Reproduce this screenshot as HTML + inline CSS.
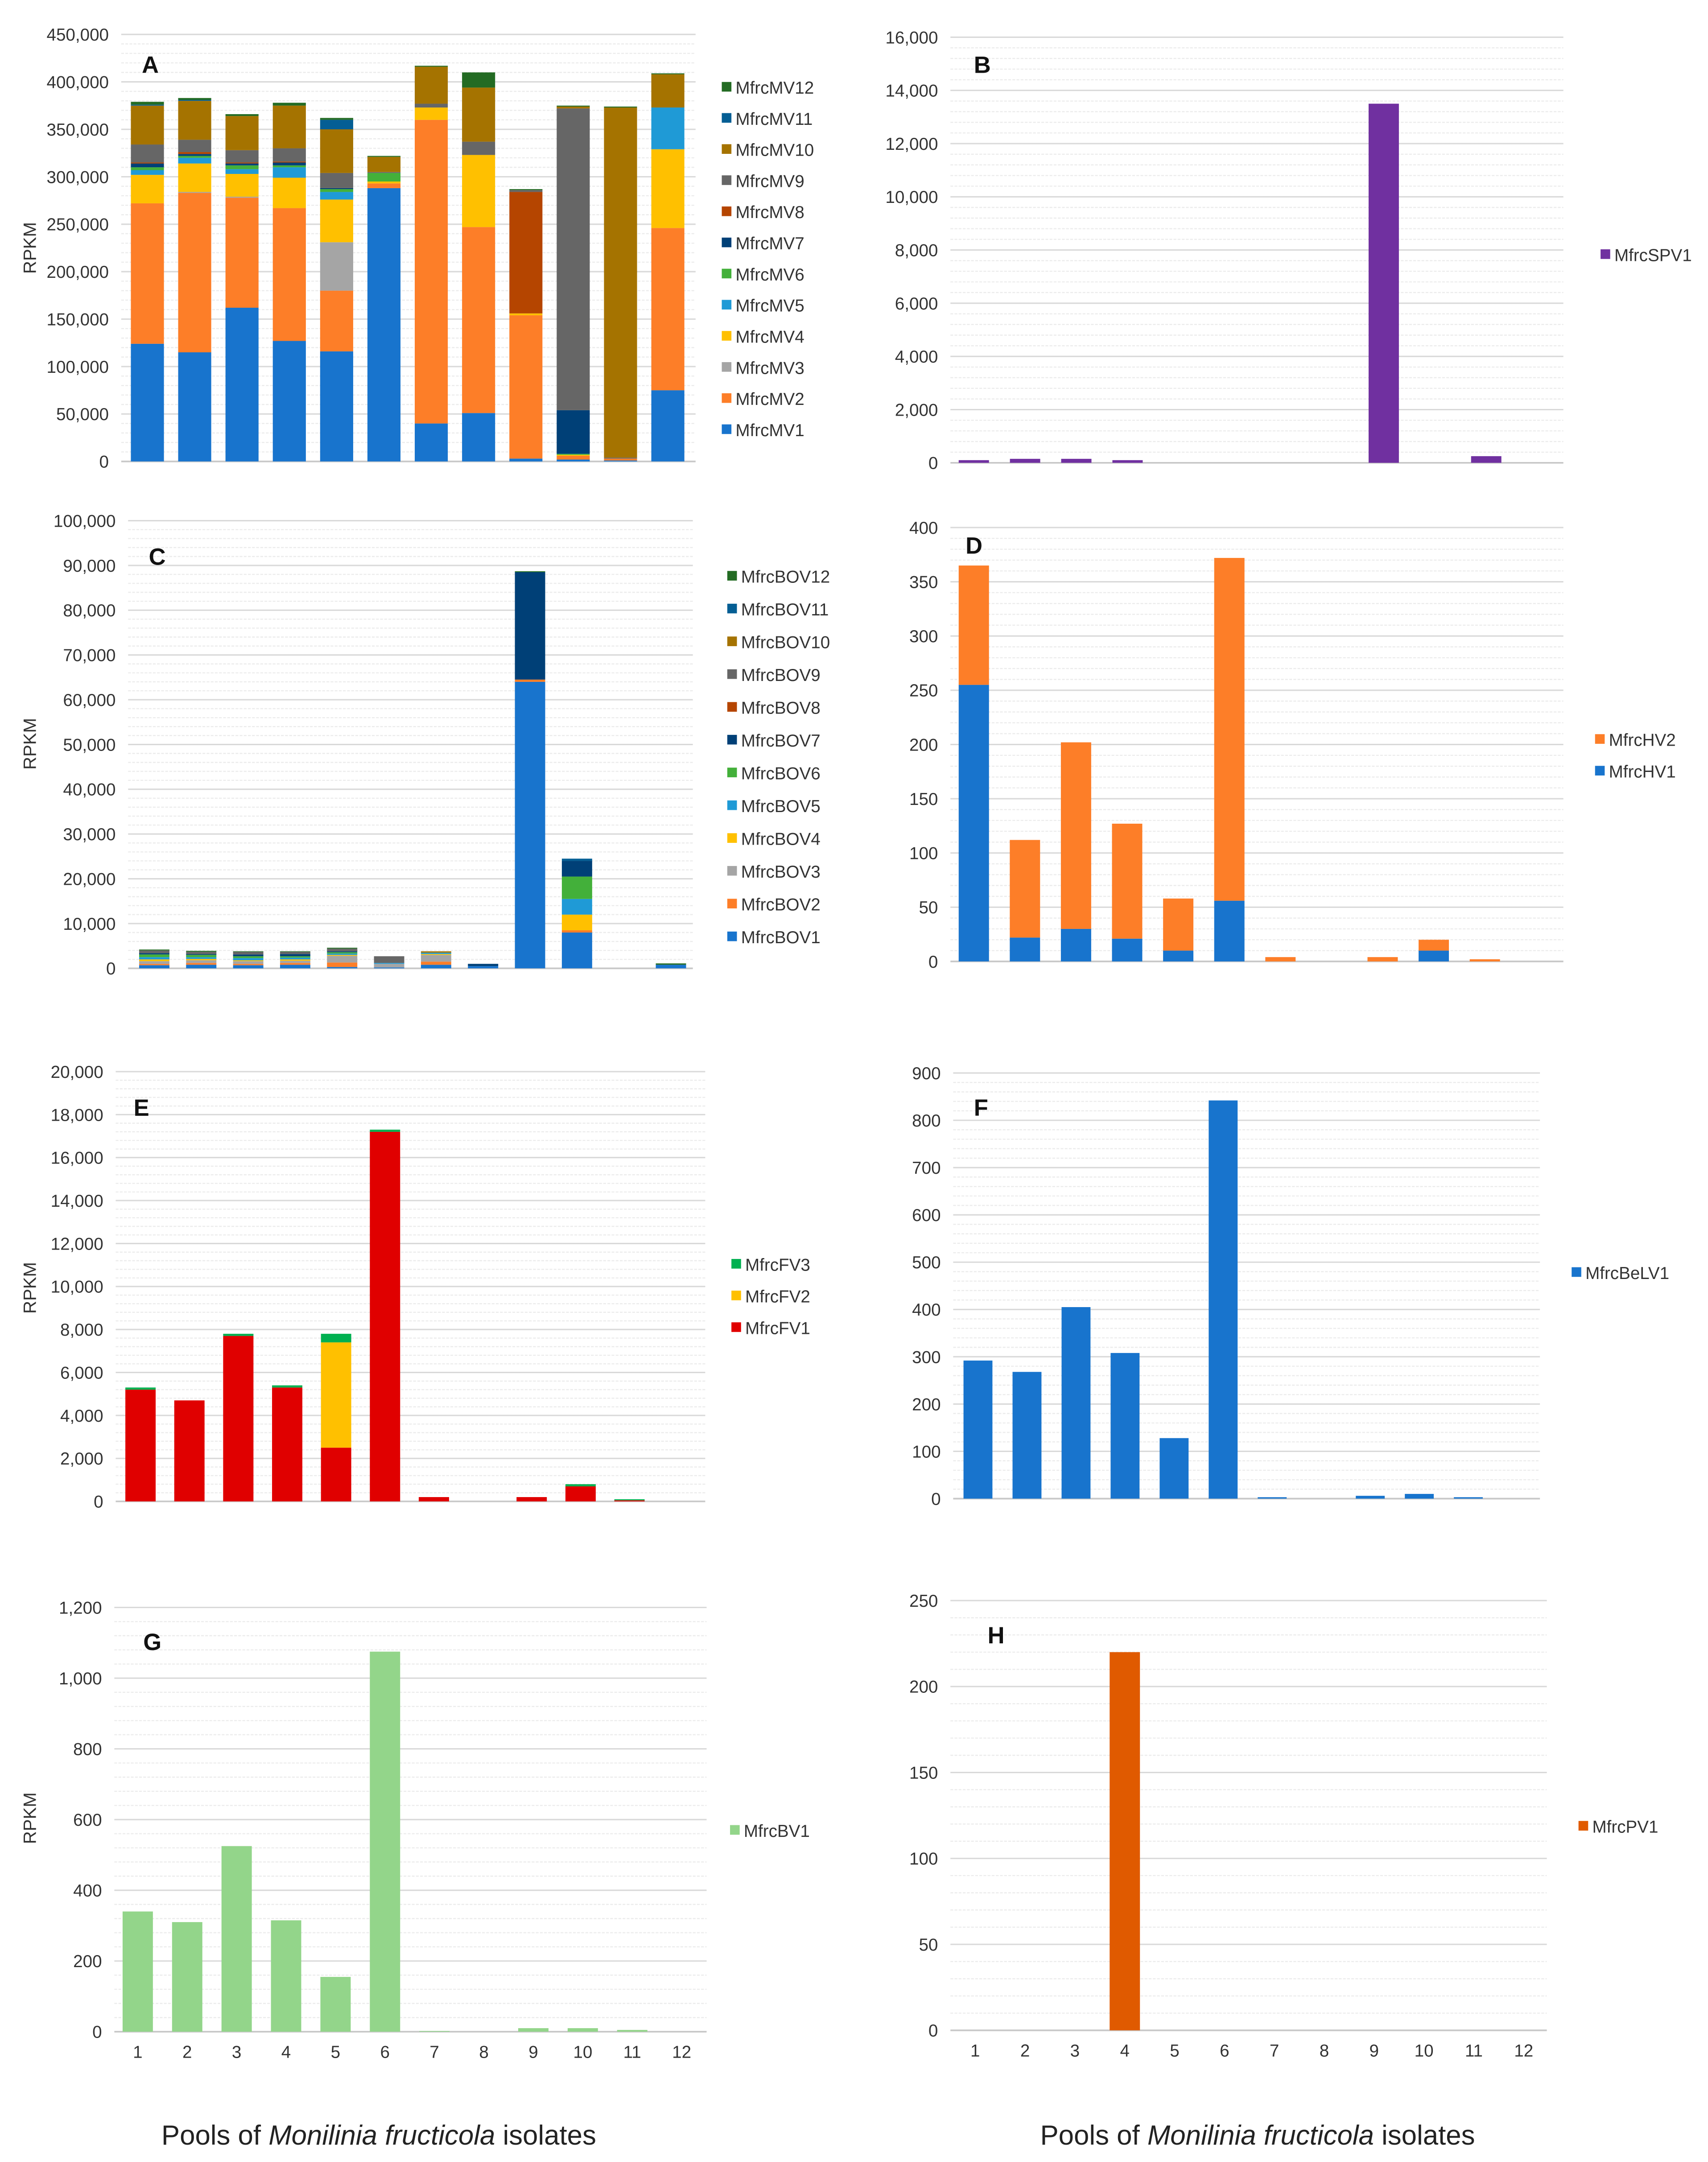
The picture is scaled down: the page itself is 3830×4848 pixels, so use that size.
<!DOCTYPE html>
<html><head><meta charset="utf-8"><style>
html,body{margin:0;padding:0;background:#fff;}
svg{display:block;font-family:"Liberation Sans",sans-serif;}
</style></head><body>
<svg id="root" width="3830" height="4848" viewBox="0 0 1240 1569.6" xmlns="http://www.w3.org/2000/svg">
<rect width="1240" height="1570" fill="#fff"/>
<g id="charts"></g>
<text x="275" y="1557" text-anchor="middle" font-size="20" fill="#222">Pools of <tspan font-style="italic">Monilinia fructicola</tspan> isolates</text>
<text x="913" y="1557" text-anchor="middle" font-size="20" fill="#222">Pools of <tspan font-style="italic">Monilinia fructicola</tspan> isolates</text>
</svg>
<script>
// ---- Panel A data (MfrcMV1..12), values in thousands RPKM ----
const aMV1=[124,115,162,127,116,288,40,51,3,2,1,75];
const aMV2=[148,168,116,140,64,5,320,196,151,4,2,171];
const aMV3=[0,1,1,0,51,0,0,0,0,0,0,0];
const aMV4=[30,30,24,32,45,2,13,76,2,1,0,83];
const aMV5=[5,6,5,11,8,0,0,0,0,0,0,44];
const aMV6=[3,2,4,2,3,9,0,0,0,1,0,0];
const aMV7=[4,2,2,3,1,0,0,0,0,46,0,0];
const aMV8=[1,2,1,1,0,0,0,0,128,0,0,0];
const aMV9=[19,13,13,14,16,1,4,14,2,318,1,0];
const aMV10=[41,41,36,45,46,16,39,57,0,2,369,35];
const aMV11=[1,1,0,0,10,0,0,0,0,0,0,0];
const aMV12=[3,2,2,3,2,1,1,16,1,1,1,1];
// ---- Panel C data (MfrcBOV1..12), thousands ----
const cBOV1=[0.7,0.8,0.7,0.8,0.3,0.2,0.8,0.5,64,8,0,0.8];
const cBOV2=[0.3,0.4,0.3,0.4,1.0,0,0.7,0,0.5,0.5,0,0];
const cBOV3=[0.6,0.6,0.6,0.5,1.5,0.8,1.5,0,0,0,0,0];
const cBOV4=[0.4,0.3,0.2,0.3,0.2,0,0.2,0,0,3.5,0,0];
const cBOV5=[0.5,0.4,0.5,0.4,0.3,0.2,0.3,0,0,3.5,0,0];
const cBOV6=[0.6,0.5,0.4,0.3,0.3,0,0,0,0,5,0,0];
const cBOV7=[0.3,0.2,0.4,0.5,0.2,0,0,0.5,24,3.5,0,0];
const cBOV8=[0,0,0,0,0,0,0,0,0,0,0,0];
const cBOV9=[0.6,0.5,0.6,0.5,0.6,1.5,0,0,0,0,0,0];
const cBOV10=[0,0,0,0,0,0,0.3,0,0,0,0,0];
const cBOV11=[0,0,0,0,0,0,0,0,0,0.5,0,0];
const cBOV12=[0.2,0.2,0.1,0.1,0.2,0,0,0,0.2,0,0,0.3];
// ---- Panel B ----
const bSPV1=[100,150,150,100,0,0,0,0,13500,0,250,0];
// ---- Panel D ----
const dHV1=[255,22,30,21,10,56,0,0,0,10,0,0];
const dHV2=[110,90,172,106,48,316,4,0,4,10,2,0];
// ---- Panel E ----
const eFV1=[5200,4700,7700,5300,2500,17200,200,0,200,700,50,0];
const eFV2=[0,0,0,0,4900,0,0,0,0,0,0,0];
const eFV3=[100,0,100,100,400,100,0,0,0,100,50,0];
// ---- Panel F ----
const fBeLV1=[292,268,405,308,128,842,3,0,6,10,3,0];
// ---- Panel G ----
const gBV1=[340,310,525,315,155,1075,2,0,10,10,5,0];
// ---- Panel H ----
const hPV1=[0,0,0,220,0,0,0,0,0,0,0,0];
// ---- categories / ticks ----
const categories=["1","2","3","4","5","6","7","8","9","10","11","12"];
const ticksA=[0,50000,100000,150000,200000,250000,300000,350000,400000,450000];
const ticksB=[0,2000,4000,6000,8000,10000,12000,14000,16000];
const ticksC=[0,10000,20000,30000,40000,50000,60000,70000,80000,90000,100000];
const ticksD=[0,50,100,150,200,250,300,350,400];
const ticksE=[0,2000,4000,6000,8000,10000,12000,14000,16000,18000,20000];
const ticksF=[0,100,200,300,400,500,600,700,800,900];
const ticksG=[0,200,400,600,800,1000,1200];
const ticksH=[0,50,100,150,200,250];

const NS="http://www.w3.org/2000/svg";
const root=document.getElementById('charts');
function mk(tag,attrs,parent){const e=document.createElementNS(NS,tag);for(const k in attrs)e.setAttribute(k,attrs[k]);(parent||root).appendChild(e);return e;}
function fmt(v){return v.toLocaleString('en-US');}
const mvCols=["#1874cd","#fd7e28","#a5a5a5","#ffc000","#1f9ad6","#43b03a","#004077","#b54500","#666666","#a57300","#045e94","#236b23"];

function panel(p){
  const g=mk('g',{});
  
  
  const max=p.ticks[p.ticks.length-1];
  const y=v=>p.y0-(v/max)*(p.y0-p.yTop);
  const x=i=>p.x0+p.step*i;
  const n=p.ticks.length-1;
  for(let t=0;t<n;t++){for(let m=1;m<p.minor;m++){const v=p.ticks[t]+(p.ticks[t+1]-p.ticks[t])*m/p.minor;
    const l=mk('line',{x1:p.left,x2:p.right,y1:y(v),y2:y(v),stroke:'#ececec','stroke-width':0.8,'stroke-dasharray':'2,1'},g);
    
    }}
  p.ticks.forEach(v=>{
    const l=mk('line',{x1:p.left,x2:p.right,y1:y(v),y2:y(v),stroke:v===0?'#c8c8c8':'#d9d9d9','stroke-width':v===0?1.2:1},g);
    
    
    const t=mk('text',{x:p.left-9,y:y(v)+4.5,'text-anchor':'end','font-size':12.5,fill:'#333'},g);
    t.textContent=fmt(v);
    
    
  });
  categories.forEach((c,i)=>{
    let acc=0;
    p.series.forEach((s,si)=>{
      const v=s.data[i]*(p.mult||1);
      if(v<=0)return;
      const r=mk('rect',{x:x(i)-p.bw/2,y:y(acc+v),width:p.bw,height:Math.max(0.4,y(acc)-y(acc+v)),fill:s.color},g);
      
      
      acc+=v;
    });
  });
  if(p.xlabels){categories.forEach((c,i)=>{
    const t=mk('text',{x:x(i),y:p.y0+19,'text-anchor':'middle','font-size':12.5,fill:'#333'},g);
    t.textContent=c;
    
    
  });}
  const ser=p.series.slice().reverse();
  ser.forEach((s,k)=>{
    const ly=p.legY+k*p.legStep;
    const sw=mk('rect',{x:p.legX,y:ly-4,width:7,height:7,fill:s.color},g);
    
    
    const t=mk('text',{x:p.legX+10,y:ly+4.5,'font-size':12.5,fill:'#333'},g);
    t.textContent=s.name;
    
    
  });
  const lt=mk('text',{x:p.letter[0],y:p.letter[1],'font-size':17,'font-weight':'bold',fill:'#111'},g);
  lt.textContent=p.id;
  
  
  if(p.rpkm){const t=mk('text',{x:26,y:p.rpkm,'font-size':13,fill:'#333','text-anchor':'middle',transform:'rotate(-90 26 '+p.rpkm+')'},g);
    t.textContent='RPKM';
    
    }
}
const mvData=[aMV1,aMV2,aMV3,aMV4,aMV5,aMV6,aMV7,aMV8,aMV9,aMV10,aMV11,aMV12];
const bovData=[cBOV1,cBOV2,cBOV3,cBOV4,cBOV5,cBOV6,cBOV7,cBOV8,cBOV9,cBOV10,cBOV11,cBOV12];
panel({id:'A',ticks:ticksA,y0:335,yTop:25,left:88,right:505,x0:107,step:34.35,bw:24,minor:5,mult:1000,
  series:mvData.map((d,i)=>({name:'MfrcMV'+(i+1),data:d,color:mvCols[i]})),legX:524,legY:63.5,legStep:22.6,letter:[103,53],rpkm:180});
panel({id:'C',ticks:ticksC,y0:703,yTop:378,left:93,right:503,x0:112,step:34.1,bw:22,minor:5,mult:1000,
  series:bovData.map((d,i)=>({name:'MfrcBOV'+(i+1),data:d,color:mvCols[i]})),legX:528,legY:418.5,legStep:23.8,letter:[108,410],rpkm:540});
panel({id:'B',ticks:ticksB,y0:336,yTop:27,left:690,right:1135,x0:707,step:37.2,bw:22,minor:5,
  series:[{name:'MfrcSPV1',data:bSPV1,color:'#7030a0'}],legX:1162,legY:185,legStep:23,letter:[707,53]});
panel({id:'D',ticks:ticksD,y0:698,yTop:383,left:690,right:1135,x0:707,step:37.1,bw:22,minor:5,
  series:[{name:'MfrcHV1',data:dHV1,color:'#1874cd'},{name:'MfrcHV2',data:dHV2,color:'#fd7e28'}],legX:1158,legY:537,legStep:23,letter:[701,402]});
panel({id:'E',ticks:ticksE,y0:1090,yTop:778,left:84,right:512,x0:102,step:35.5,bw:22,minor:5,
  series:[{name:'MfrcFV1',data:eFV1,color:'#e00000'},{name:'MfrcFV2',data:eFV2,color:'#ffc000'},{name:'MfrcFV3',data:eFV3,color:'#00b050'}],legX:531,legY:918,legStep:23,letter:[97,810],rpkm:935});
panel({id:'F',ticks:ticksF,y0:1088,yTop:779,left:692,right:1118,x0:710,step:35.6,bw:21,minor:5,
  series:[{name:'MfrcBeLV1',data:fBeLV1,color:'#1874cd'}],legX:1141,legY:924,legStep:23,letter:[707,810]});
panel({id:'G',ticks:ticksG,y0:1475,yTop:1167,left:83,right:513,x0:100,step:35.9,bw:22,minor:5,xlabels:true,
  series:[{name:'MfrcBV1',data:gBV1,color:'#93d58a'}],legX:530,legY:1329,legStep:23,letter:[104,1198],rpkm:1320});
panel({id:'H',ticks:ticksH,y0:1474,yTop:1162,left:690,right:1123,x0:708,step:36.2,bw:22,minor:5,xlabels:true,
  series:[{name:'MfrcPV1',data:hPV1,color:'#e05a00'}],legX:1146,legY:1326,legStep:23,letter:[717,1193]});
</script>
</body></html>
